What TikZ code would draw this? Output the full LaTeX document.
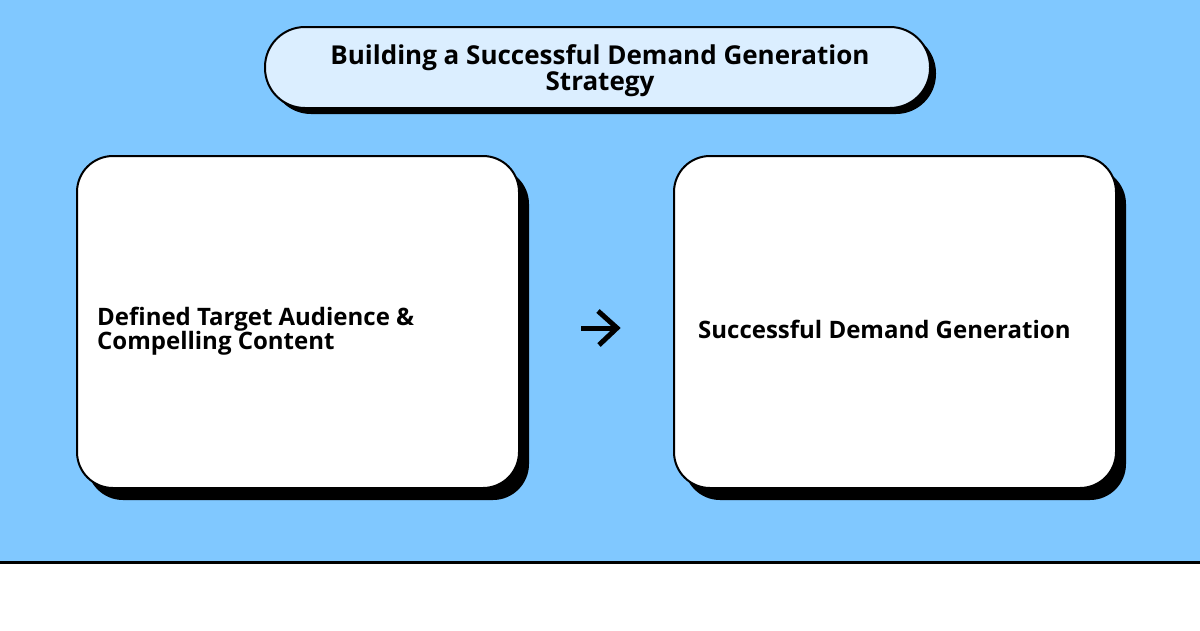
\documentclass[tikz,border=0pt]{standalone}
\usepackage{fontspec}
\setmainfont{Open Sans}
\definecolor{bgblue}{HTML}{80C8FF}
\definecolor{titlefill}{HTML}{DBEEFF}
\begin{document}
\begin{tikzpicture}[x=1pt,y=-1pt,
  card/.style={draw=black, line width=2pt, fill=white, rounded corners=36pt, minimum width=442pt, minimum height=332pt, inner sep=0pt},
  cardshadow/.style={fill=black, rounded corners=36pt, minimum width=442pt, minimum height=332pt, inner sep=0pt},
  pill/.style={draw=black, line width=2pt, fill=titlefill, rounded corners=40pt, minimum width=665pt, minimum height=81pt, inner sep=0pt},
  pillshadow/.style={fill=black, rounded corners=40pt, minimum width=665pt, minimum height=81pt, inner sep=0pt},
  lbl/.style={font=\bfseries\fontsize{24}{24}\selectfont, inner sep=0pt},
  ttl/.style={font=\bfseries\fontsize{26}{25}\selectfont, inner sep=0pt}
]
\useasboundingbox (0,0) rectangle (1200,630);
\fill[bgblue] (0,0) rectangle (1200,562);
\draw[line width=2.5pt] (0,562.5) -- (1200,562.5);
% title
\node[pillshadow] (ts) at (603.5,73.5) {};
\node[pill] (title) at (597.5,67.5) {};
\node[ttl, align=center] (titletext) at (600,71) {Building a Successful Demand Generation\\Strategy};
% left card
\node[cardshadow] (ls) at (308,334) {};
\node[card] (left) at (298,322) {};
\node[lbl, align=left, anchor=west] (lefttext) at (97,331) {Defined Target Audience \&\\Compelling Content};
% right card
\node[cardshadow] (rs) at (905,334) {};
\node[card] (right) at (895,322) {};
\node[lbl, anchor=west] (righttext) at (698,329.5) {Successful Demand Generation};
% arrow
\coordinate (a1) at (581,328);
\coordinate (a2) at (617,328);
\draw[line width=5pt] (a1) -- (a2);
\draw[line width=5pt, line join=miter] (598,311) -- (a2) -- (599,345);
\end{tikzpicture}
\end{document}
